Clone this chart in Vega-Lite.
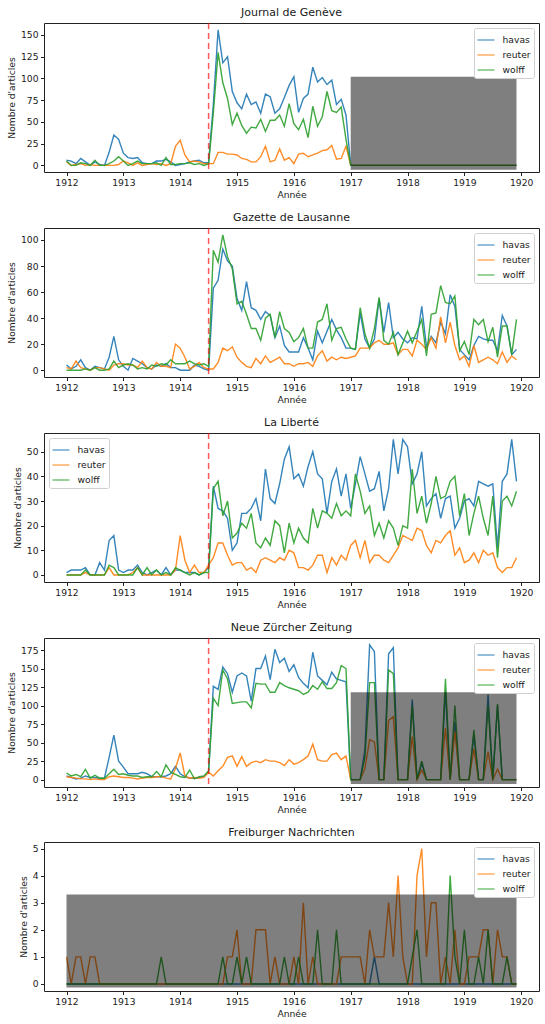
{
"$schema": "https://vega.github.io/schema/vega-lite/v6.json",
"padding": {"left": 6, "top": 6, "right": 5, "bottom": 3},
"config": {
  "font": "DejaVu Sans",
  "view": {"stroke": "#222", "strokeWidth": 1},
  "axis": {"grid": false, "domain": false, "tickColor": "#222", "tickSize": 3.5, "labelFontSize": 9.2, "labelColor": "#1a1a1a", "titleFontSize": 9.2, "titleFontWeight": "normal", "titleColor": "#1a1a1a", "labelPadding": 2.5, "labelFlush": false, "labelOverlap": false},
  "axisY": {"titlePadding": 4},
  "axisX": {"titlePadding": 3},
  "title": {"fontSize": 11, "fontWeight": "normal", "color": "#1a1a1a", "offset": 4},
  "legend": {"title": null, "orient": "top-right", "symbolType": "stroke", "symbolSize": 289, "symbolStrokeWidth": 1.6, "symbolOpacity": 0.6, "labelFontSize": 9.2, "labelColor": "#1a1a1a", "fillColor": "white", "strokeColor": "#d0d0d0", "cornerRadius": 2, "padding": 2.5, "offset": 5, "rowPadding": -3.3, "labelOffset": 7},
  "concat": {"spacing": 11}
},
"resolve": {"scale": {"color": "independent", "x": "independent", "y": "independent"}, "legend": {"color": "independent"}},
"datasets": {
"jdg": [
{"t":1912,"havas":6,"reuter":4,"wolff":5},{"t":1912.083,"havas":5,"reuter":0,"wolff":0},{"t":1912.167,"havas":2,"reuter":1,"wolff":0},{"t":1912.25,"havas":8,"reuter":2,"wolff":3},{"t":1912.333,"havas":4,"reuter":0,"wolff":2},{"t":1912.417,"havas":0,"reuter":1,"wolff":0},{"t":1912.5,"havas":4,"reuter":0,"wolff":6},{"t":1912.583,"havas":1,"reuter":0,"wolff":0},{"t":1912.667,"havas":0,"reuter":0,"wolff":0},{"t":1912.75,"havas":15,"reuter":0,"wolff":2},{"t":1912.833,"havas":35,"reuter":0,"wolff":5},{"t":1912.917,"havas":30,"reuter":1,"wolff":10},
{"t":1913,"havas":14,"reuter":5,"wolff":5},{"t":1913.083,"havas":9,"reuter":3,"wolff":0},{"t":1913.167,"havas":8,"reuter":0,"wolff":2},{"t":1913.25,"havas":9,"reuter":3,"wolff":5},{"t":1913.333,"havas":3,"reuter":0,"wolff":2},{"t":1913.417,"havas":2,"reuter":1,"wolff":2},{"t":1913.5,"havas":2,"reuter":2,"wolff":2},{"t":1913.583,"havas":5,"reuter":1,"wolff":3},{"t":1913.667,"havas":5,"reuter":2,"wolff":0},{"t":1913.75,"havas":7,"reuter":0,"wolff":9},{"t":1913.833,"havas":4,"reuter":2,"wolff":1},{"t":1913.917,"havas":0,"reuter":22,"wolff":1},
{"t":1914,"havas":1,"reuter":29,"wolff":2},{"t":1914.083,"havas":2,"reuter":12,"wolff":2},{"t":1914.167,"havas":4,"reuter":4,"wolff":3},{"t":1914.25,"havas":5,"reuter":5,"wolff":1},{"t":1914.333,"havas":6,"reuter":4,"wolff":2},{"t":1914.417,"havas":3,"reuter":2,"wolff":0},{"t":1914.5,"havas":3,"reuter":2,"wolff":2},{"t":1914.583,"havas":70,"reuter":2,"wolff":60},{"t":1914.667,"havas":156,"reuter":15,"wolff":130},{"t":1914.75,"havas":118,"reuter":15,"wolff":95},{"t":1914.833,"havas":125,"reuter":13,"wolff":77},{"t":1914.917,"havas":85,"reuter":13,"wolff":47},
{"t":1915,"havas":72,"reuter":12,"wolff":60},{"t":1915.083,"havas":65,"reuter":8,"wolff":46},{"t":1915.167,"havas":82,"reuter":7,"wolff":37},{"t":1915.25,"havas":70,"reuter":4,"wolff":44},{"t":1915.333,"havas":73,"reuter":4,"wolff":43},{"t":1915.417,"havas":60,"reuter":10,"wolff":53},{"t":1915.5,"havas":82,"reuter":22,"wolff":39},{"t":1915.583,"havas":79,"reuter":4,"wolff":52},{"t":1915.667,"havas":60,"reuter":6,"wolff":52},{"t":1915.75,"havas":65,"reuter":19,"wolff":58},{"t":1915.833,"havas":78,"reuter":6,"wolff":45},{"t":1915.917,"havas":92,"reuter":9,"wolff":71},
{"t":1916,"havas":102,"reuter":2,"wolff":48},{"t":1916.083,"havas":61,"reuter":13,"wolff":41},{"t":1916.167,"havas":77,"reuter":14,"wolff":53},{"t":1916.25,"havas":82,"reuter":10,"wolff":32},{"t":1916.333,"havas":113,"reuter":12,"wolff":68},{"t":1916.417,"havas":96,"reuter":14,"wolff":45},{"t":1916.5,"havas":101,"reuter":17,"wolff":56},{"t":1916.583,"havas":93,"reuter":18,"wolff":85},{"t":1916.667,"havas":98,"reuter":23,"wolff":63},{"t":1916.75,"havas":70,"reuter":7,"wolff":61},{"t":1916.833,"havas":76,"reuter":8,"wolff":67},{"t":1916.917,"havas":58,"reuter":22,"wolff":30},
{"t":1917,"havas":0,"reuter":0,"wolff":0},{"t":1917.083,"havas":0,"reuter":0,"wolff":0},{"t":1917.167,"havas":0,"reuter":0,"wolff":0},{"t":1917.25,"havas":0,"reuter":0,"wolff":0},{"t":1917.333,"havas":0,"reuter":0,"wolff":0},{"t":1917.417,"havas":0,"reuter":0,"wolff":0},{"t":1917.5,"havas":0,"reuter":0,"wolff":0},{"t":1917.583,"havas":0,"reuter":0,"wolff":0},{"t":1917.667,"havas":0,"reuter":0,"wolff":0},{"t":1917.75,"havas":0,"reuter":0,"wolff":0},{"t":1917.833,"havas":0,"reuter":0,"wolff":0},{"t":1917.917,"havas":0,"reuter":0,"wolff":0},
{"t":1918,"havas":0,"reuter":0,"wolff":0},{"t":1918.083,"havas":0,"reuter":0,"wolff":0},{"t":1918.167,"havas":0,"reuter":0,"wolff":0},{"t":1918.25,"havas":0,"reuter":0,"wolff":0},{"t":1918.333,"havas":0,"reuter":0,"wolff":0},{"t":1918.417,"havas":0,"reuter":0,"wolff":0},{"t":1918.5,"havas":0,"reuter":0,"wolff":0},{"t":1918.583,"havas":0,"reuter":0,"wolff":0},{"t":1918.667,"havas":0,"reuter":0,"wolff":0},{"t":1918.75,"havas":0,"reuter":0,"wolff":0},{"t":1918.833,"havas":0,"reuter":0,"wolff":0},{"t":1918.917,"havas":0,"reuter":0,"wolff":0},
{"t":1919,"havas":0,"reuter":0,"wolff":0},{"t":1919.083,"havas":0,"reuter":0,"wolff":0},{"t":1919.167,"havas":0,"reuter":0,"wolff":0},{"t":1919.25,"havas":0,"reuter":0,"wolff":0},{"t":1919.333,"havas":0,"reuter":0,"wolff":0},{"t":1919.417,"havas":0,"reuter":0,"wolff":0},{"t":1919.5,"havas":0,"reuter":0,"wolff":0},{"t":1919.583,"havas":0,"reuter":0,"wolff":0},{"t":1919.667,"havas":0,"reuter":0,"wolff":0},{"t":1919.75,"havas":0,"reuter":0,"wolff":0},{"t":1919.833,"havas":0,"reuter":0,"wolff":0},{"t":1919.917,"havas":0,"reuter":0,"wolff":0}
],
"gdl": [
{"t":1912,"havas":4,"reuter":2,"wolff":0},{"t":1912.083,"havas":1,"reuter":1,"wolff":0},{"t":1912.167,"havas":3,"reuter":7,"wolff":0},{"t":1912.25,"havas":8,"reuter":2,"wolff":0},{"t":1912.333,"havas":2,"reuter":1,"wolff":1},{"t":1912.417,"havas":0,"reuter":0,"wolff":0},{"t":1912.5,"havas":3,"reuter":2,"wolff":2},{"t":1912.583,"havas":2,"reuter":2,"wolff":0},{"t":1912.667,"havas":1,"reuter":1,"wolff":0},{"t":1912.75,"havas":10,"reuter":0,"wolff":1},{"t":1912.833,"havas":26,"reuter":4,"wolff":7},{"t":1912.917,"havas":8,"reuter":5,"wolff":2},
{"t":1913,"havas":3,"reuter":5,"wolff":4},{"t":1913.083,"havas":0,"reuter":4,"wolff":5},{"t":1913.167,"havas":9,"reuter":4,"wolff":4},{"t":1913.25,"havas":7,"reuter":2,"wolff":1},{"t":1913.333,"havas":5,"reuter":7,"wolff":2},{"t":1913.417,"havas":2,"reuter":2,"wolff":1},{"t":1913.5,"havas":1,"reuter":1,"wolff":4},{"t":1913.583,"havas":4,"reuter":6,"wolff":3},{"t":1913.667,"havas":3,"reuter":3,"wolff":5},{"t":1913.75,"havas":5,"reuter":3,"wolff":4},{"t":1913.833,"havas":2,"reuter":2,"wolff":8},{"t":1913.917,"havas":2,"reuter":20,"wolff":5},
{"t":1914,"havas":0,"reuter":17,"wolff":5},{"t":1914.083,"havas":0,"reuter":10,"wolff":5},{"t":1914.167,"havas":0,"reuter":1,"wolff":7},{"t":1914.25,"havas":4,"reuter":3,"wolff":5},{"t":1914.333,"havas":3,"reuter":6,"wolff":4},{"t":1914.417,"havas":1,"reuter":2,"wolff":5},{"t":1914.5,"havas":0,"reuter":1,"wolff":3},{"t":1914.583,"havas":63,"reuter":1,"wolff":92},{"t":1914.667,"havas":69,"reuter":6,"wolff":83},{"t":1914.75,"havas":93,"reuter":17,"wolff":104},{"t":1914.833,"havas":84,"reuter":15,"wolff":87},{"t":1914.917,"havas":80,"reuter":18,"wolff":78},
{"t":1915,"havas":55,"reuter":10,"wolff":51},{"t":1915.083,"havas":46,"reuter":6,"wolff":53},{"t":1915.167,"havas":68,"reuter":3,"wolff":43},{"t":1915.25,"havas":48,"reuter":2,"wolff":32},{"t":1915.333,"havas":46,"reuter":9,"wolff":32},{"t":1915.417,"havas":39,"reuter":5,"wolff":23},{"t":1915.5,"havas":45,"reuter":11,"wolff":40},{"t":1915.583,"havas":42,"reuter":6,"wolff":43},{"t":1915.667,"havas":25,"reuter":8,"wolff":25},{"t":1915.75,"havas":34,"reuter":10,"wolff":45},{"t":1915.833,"havas":19,"reuter":5,"wolff":32},{"t":1915.917,"havas":14,"reuter":5,"wolff":29},
{"t":1916,"havas":14,"reuter":3,"wolff":22},{"t":1916.083,"havas":14,"reuter":5,"wolff":25},{"t":1916.167,"havas":25,"reuter":5,"wolff":32},{"t":1916.25,"havas":17,"reuter":6,"wolff":17},{"t":1916.333,"havas":8,"reuter":3,"wolff":17},{"t":1916.417,"havas":30,"reuter":11,"wolff":37},{"t":1916.5,"havas":21,"reuter":15,"wolff":39},{"t":1916.583,"havas":30,"reuter":7,"wolff":51},{"t":1916.667,"havas":39,"reuter":10,"wolff":23},{"t":1916.75,"havas":31,"reuter":8,"wolff":32},{"t":1916.833,"havas":25,"reuter":10,"wolff":33},{"t":1916.917,"havas":17,"reuter":9,"wolff":24},
{"t":1917,"havas":17,"reuter":10,"wolff":17},{"t":1917.083,"havas":16,"reuter":11,"wolff":16},{"t":1917.167,"havas":44,"reuter":17,"wolff":48},{"t":1917.25,"havas":24,"reuter":17,"wolff":28},{"t":1917.333,"havas":17,"reuter":17,"wolff":17},{"t":1917.417,"havas":24,"reuter":21,"wolff":32},{"t":1917.5,"havas":55,"reuter":23,"wolff":56},{"t":1917.583,"havas":29,"reuter":20,"wolff":23},{"t":1917.667,"havas":52,"reuter":20,"wolff":20},{"t":1917.75,"havas":25,"reuter":21,"wolff":29},{"t":1917.833,"havas":29,"reuter":12,"wolff":12},{"t":1917.917,"havas":24,"reuter":16,"wolff":21},
{"t":1918,"havas":21,"reuter":16,"wolff":30},{"t":1918.083,"havas":25,"reuter":11,"wolff":21},{"t":1918.167,"havas":24,"reuter":23,"wolff":30},{"t":1918.25,"havas":49,"reuter":20,"wolff":39},{"t":1918.333,"havas":18,"reuter":16,"wolff":11},{"t":1918.417,"havas":26,"reuter":25,"wolff":43},{"t":1918.5,"havas":21,"reuter":17,"wolff":44},{"t":1918.583,"havas":37,"reuter":41,"wolff":65},{"t":1918.667,"havas":28,"reuter":21,"wolff":52},{"t":1918.75,"havas":58,"reuter":37,"wolff":51},{"t":1918.833,"havas":49,"reuter":19,"wolff":57},{"t":1918.917,"havas":16,"reuter":8,"wolff":15},
{"t":1919,"havas":12,"reuter":11,"wolff":22},{"t":1919.083,"havas":8,"reuter":3,"wolff":12},{"t":1919.167,"havas":19,"reuter":19,"wolff":39},{"t":1919.25,"havas":26,"reuter":6,"wolff":35},{"t":1919.333,"havas":24,"reuter":8,"wolff":39},{"t":1919.417,"havas":23,"reuter":10,"wolff":22},{"t":1919.5,"havas":23,"reuter":8,"wolff":33},{"t":1919.583,"havas":15,"reuter":5,"wolff":10},{"t":1919.667,"havas":42,"reuter":14,"wolff":34},{"t":1919.75,"havas":34,"reuter":6,"wolff":34},{"t":1919.833,"havas":12,"reuter":11,"wolff":12},{"t":1919.917,"havas":16,"reuter":8,"wolff":39}
],
"lib": [
{"t":1912,"havas":1,"reuter":0,"wolff":0},{"t":1912.083,"havas":2,"reuter":0,"wolff":0},{"t":1912.167,"havas":2,"reuter":0,"wolff":0},{"t":1912.25,"havas":2,"reuter":0,"wolff":0},{"t":1912.333,"havas":3,"reuter":1,"wolff":2},{"t":1912.417,"havas":0,"reuter":0,"wolff":0},{"t":1912.5,"havas":0,"reuter":0,"wolff":0},{"t":1912.583,"havas":5,"reuter":0,"wolff":0},{"t":1912.667,"havas":2,"reuter":0,"wolff":0},{"t":1912.75,"havas":14,"reuter":3,"wolff":4},{"t":1912.833,"havas":16,"reuter":0,"wolff":3},{"t":1912.917,"havas":2,"reuter":0,"wolff":0},
{"t":1913,"havas":1,"reuter":0,"wolff":0},{"t":1913.083,"havas":2,"reuter":0,"wolff":0},{"t":1913.167,"havas":2,"reuter":1,"wolff":0},{"t":1913.25,"havas":4,"reuter":3,"wolff":3},{"t":1913.333,"havas":1,"reuter":0,"wolff":0},{"t":1913.417,"havas":0,"reuter":0,"wolff":3},{"t":1913.5,"havas":1,"reuter":0,"wolff":0},{"t":1913.583,"havas":2,"reuter":0,"wolff":2},{"t":1913.667,"havas":0,"reuter":0,"wolff":0},{"t":1913.75,"havas":3,"reuter":0,"wolff":1},{"t":1913.833,"havas":0,"reuter":0,"wolff":0},{"t":1913.917,"havas":2,"reuter":2,"wolff":3},
{"t":1914,"havas":2,"reuter":16,"wolff":2},{"t":1914.083,"havas":1,"reuter":6,"wolff":1},{"t":1914.167,"havas":1,"reuter":1,"wolff":0},{"t":1914.25,"havas":1,"reuter":4,"wolff":1},{"t":1914.333,"havas":0,"reuter":1,"wolff":0},{"t":1914.417,"havas":1,"reuter":1,"wolff":1},{"t":1914.5,"havas":3,"reuter":4,"wolff":1},{"t":1914.583,"havas":36,"reuter":7,"wolff":35},{"t":1914.667,"havas":27,"reuter":13,"wolff":38},{"t":1914.75,"havas":26,"reuter":13,"wolff":24},{"t":1914.833,"havas":23,"reuter":8,"wolff":30},{"t":1914.917,"havas":10,"reuter":4,"wolff":15},
{"t":1915,"havas":13,"reuter":5,"wolff":17},{"t":1915.083,"havas":25,"reuter":5,"wolff":21},{"t":1915.167,"havas":25,"reuter":2,"wolff":19},{"t":1915.25,"havas":27,"reuter":3,"wolff":25},{"t":1915.333,"havas":31,"reuter":1,"wolff":13},{"t":1915.417,"havas":22,"reuter":6,"wolff":11},{"t":1915.5,"havas":43,"reuter":7,"wolff":15},{"t":1915.583,"havas":31,"reuter":6,"wolff":12},{"t":1915.667,"havas":29,"reuter":5,"wolff":22},{"t":1915.75,"havas":37,"reuter":7,"wolff":20},{"t":1915.833,"havas":47,"reuter":6,"wolff":9},{"t":1915.917,"havas":52,"reuter":10,"wolff":21},
{"t":1916,"havas":39,"reuter":9,"wolff":13},{"t":1916.083,"havas":41,"reuter":3,"wolff":19},{"t":1916.167,"havas":36,"reuter":3,"wolff":15},{"t":1916.25,"havas":44,"reuter":2,"wolff":13},{"t":1916.333,"havas":50,"reuter":4,"wolff":27},{"t":1916.417,"havas":41,"reuter":8,"wolff":19},{"t":1916.5,"havas":39,"reuter":8,"wolff":26},{"t":1916.583,"havas":25,"reuter":1,"wolff":25},{"t":1916.667,"havas":38,"reuter":7,"wolff":23},{"t":1916.75,"havas":43,"reuter":4,"wolff":29},{"t":1916.833,"havas":32,"reuter":8,"wolff":24},{"t":1916.917,"havas":41,"reuter":6,"wolff":26},
{"t":1917,"havas":27,"reuter":12,"wolff":24},{"t":1917.083,"havas":37,"reuter":14,"wolff":41},{"t":1917.167,"havas":48,"reuter":7,"wolff":34},{"t":1917.25,"havas":41,"reuter":14,"wolff":25},{"t":1917.333,"havas":34,"reuter":5,"wolff":28},{"t":1917.417,"havas":35,"reuter":8,"wolff":16},{"t":1917.5,"havas":42,"reuter":8,"wolff":21},{"t":1917.583,"havas":26,"reuter":6,"wolff":15},{"t":1917.667,"havas":35,"reuter":5,"wolff":22},{"t":1917.75,"havas":55,"reuter":8,"wolff":19},{"t":1917.833,"havas":41,"reuter":11,"wolff":12},{"t":1917.917,"havas":55,"reuter":16,"wolff":20},
{"t":1918,"havas":52,"reuter":15,"wolff":19},{"t":1918.083,"havas":37,"reuter":14,"wolff":43},{"t":1918.167,"havas":41,"reuter":19,"wolff":25},{"t":1918.25,"havas":50,"reuter":18,"wolff":32},{"t":1918.333,"havas":28,"reuter":12,"wolff":21},{"t":1918.417,"havas":31,"reuter":9,"wolff":29},{"t":1918.5,"havas":33,"reuter":14,"wolff":40},{"t":1918.583,"havas":23,"reuter":13,"wolff":31},{"t":1918.667,"havas":31,"reuter":16,"wolff":32},{"t":1918.75,"havas":32,"reuter":18,"wolff":38},{"t":1918.833,"havas":19,"reuter":8,"wolff":40},{"t":1918.917,"havas":23,"reuter":11,"wolff":24},
{"t":1919,"havas":30,"reuter":5,"wolff":33},{"t":1919.083,"havas":31,"reuter":6,"wolff":16},{"t":1919.167,"havas":28,"reuter":9,"wolff":25},{"t":1919.25,"havas":38,"reuter":5,"wolff":32},{"t":1919.333,"havas":37,"reuter":10,"wolff":23},{"t":1919.417,"havas":36,"reuter":8,"wolff":16},{"t":1919.5,"havas":37,"reuter":9,"wolff":32},{"t":1919.583,"havas":11,"reuter":3,"wolff":7},{"t":1919.667,"havas":38,"reuter":1,"wolff":30},{"t":1919.75,"havas":41,"reuter":3,"wolff":32},{"t":1919.833,"havas":55,"reuter":3,"wolff":28},{"t":1919.917,"havas":38,"reuter":7,"wolff":34}
],
"nzz": [
{"t":1912,"havas":5,"reuter":4,"wolff":9},{"t":1912.083,"havas":3,"reuter":3,"wolff":5},{"t":1912.167,"havas":1,"reuter":2,"wolff":7},{"t":1912.25,"havas":2,"reuter":1,"wolff":4},{"t":1912.333,"havas":5,"reuter":1,"wolff":14},{"t":1912.417,"havas":3,"reuter":0,"wolff":2},{"t":1912.5,"havas":3,"reuter":1,"wolff":6},{"t":1912.583,"havas":2,"reuter":0,"wolff":2},{"t":1912.667,"havas":2,"reuter":0,"wolff":2},{"t":1912.75,"havas":30,"reuter":4,"wolff":8},{"t":1912.833,"havas":60,"reuter":5,"wolff":14},{"t":1912.917,"havas":25,"reuter":4,"wolff":7},
{"t":1913,"havas":17,"reuter":3,"wolff":8},{"t":1913.083,"havas":8,"reuter":3,"wolff":6},{"t":1913.167,"havas":8,"reuter":2,"wolff":5},{"t":1913.25,"havas":8,"reuter":1,"wolff":5},{"t":1913.333,"havas":10,"reuter":2,"wolff":3},{"t":1913.417,"havas":8,"reuter":3,"wolff":4},{"t":1913.5,"havas":4,"reuter":3,"wolff":4},{"t":1913.583,"havas":4,"reuter":4,"wolff":11},{"t":1913.667,"havas":4,"reuter":4,"wolff":4},{"t":1913.75,"havas":5,"reuter":2,"wolff":20},{"t":1913.833,"havas":8,"reuter":1,"wolff":10},{"t":1913.917,"havas":18,"reuter":15,"wolff":7},
{"t":1914,"havas":8,"reuter":36,"wolff":4},{"t":1914.083,"havas":4,"reuter":5,"wolff":3},{"t":1914.167,"havas":2,"reuter":2,"wolff":13},{"t":1914.25,"havas":2,"reuter":3,"wolff":1},{"t":1914.333,"havas":3,"reuter":2,"wolff":4},{"t":1914.417,"havas":4,"reuter":3,"wolff":5},{"t":1914.5,"havas":10,"reuter":10,"wolff":12},{"t":1914.583,"havas":126,"reuter":5,"wolff":110},{"t":1914.667,"havas":122,"reuter":12,"wolff":100},{"t":1914.75,"havas":152,"reuter":18,"wolff":148},{"t":1914.833,"havas":143,"reuter":30,"wolff":136},{"t":1914.917,"havas":118,"reuter":32,"wolff":103},
{"t":1915,"havas":140,"reuter":18,"wolff":104},{"t":1915.083,"havas":144,"reuter":31,"wolff":105},{"t":1915.167,"havas":140,"reuter":18,"wolff":105},{"t":1915.25,"havas":106,"reuter":23,"wolff":97},{"t":1915.333,"havas":150,"reuter":25,"wolff":130},{"t":1915.417,"havas":150,"reuter":23,"wolff":129},{"t":1915.5,"havas":167,"reuter":27,"wolff":129},{"t":1915.583,"havas":135,"reuter":25,"wolff":118},{"t":1915.667,"havas":176,"reuter":25,"wolff":118},{"t":1915.75,"havas":158,"reuter":23,"wolff":131},{"t":1915.833,"havas":164,"reuter":19,"wolff":127},{"t":1915.917,"havas":146,"reuter":27,"wolff":124},
{"t":1916,"havas":155,"reuter":21,"wolff":122},{"t":1916.083,"havas":138,"reuter":23,"wolff":120},{"t":1916.167,"havas":130,"reuter":27,"wolff":115},{"t":1916.25,"havas":124,"reuter":32,"wolff":118},{"t":1916.333,"havas":172,"reuter":48,"wolff":127},{"t":1916.417,"havas":140,"reuter":27,"wolff":122},{"t":1916.5,"havas":134,"reuter":25,"wolff":132},{"t":1916.583,"havas":128,"reuter":25,"wolff":123},{"t":1916.667,"havas":145,"reuter":34,"wolff":123},{"t":1916.75,"havas":136,"reuter":36,"wolff":131},{"t":1916.833,"havas":134,"reuter":27,"wolff":154},{"t":1916.917,"havas":132,"reuter":32,"wolff":150},
{"t":1917,"havas":0,"reuter":0,"wolff":0},{"t":1917.083,"havas":0,"reuter":0,"wolff":0},{"t":1917.167,"havas":0,"reuter":0,"wolff":0},{"t":1917.25,"havas":40,"reuter":15,"wolff":30},{"t":1917.333,"havas":182,"reuter":54,"wolff":131},{"t":1917.417,"havas":173,"reuter":51,"wolff":131},{"t":1917.5,"havas":0,"reuter":0,"wolff":0},{"t":1917.583,"havas":0,"reuter":0,"wolff":0},{"t":1917.667,"havas":170,"reuter":80,"wolff":148},{"t":1917.75,"havas":178,"reuter":85,"wolff":143},{"t":1917.833,"havas":0,"reuter":0,"wolff":0},{"t":1917.917,"havas":0,"reuter":0,"wolff":0},
{"t":1918,"havas":0,"reuter":0,"wolff":0},{"t":1918.083,"havas":108,"reuter":58,"wolff":100},{"t":1918.167,"havas":0,"reuter":0,"wolff":0},{"t":1918.25,"havas":22,"reuter":13,"wolff":25},{"t":1918.333,"havas":0,"reuter":0,"wolff":0},{"t":1918.417,"havas":0,"reuter":0,"wolff":0},{"t":1918.5,"havas":0,"reuter":0,"wolff":0},{"t":1918.583,"havas":0,"reuter":0,"wolff":0},{"t":1918.667,"havas":120,"reuter":70,"wolff":136},{"t":1918.75,"havas":0,"reuter":0,"wolff":0},{"t":1918.833,"havas":78,"reuter":65,"wolff":100},{"t":1918.917,"havas":0,"reuter":0,"wolff":0},
{"t":1919,"havas":0,"reuter":0,"wolff":0},{"t":1919.083,"havas":0,"reuter":0,"wolff":0},{"t":1919.167,"havas":60,"reuter":42,"wolff":67},{"t":1919.25,"havas":0,"reuter":0,"wolff":0},{"t":1919.333,"havas":0,"reuter":0,"wolff":0},{"t":1919.417,"havas":115,"reuter":38,"wolff":100},{"t":1919.5,"havas":0,"reuter":0,"wolff":0},{"t":1919.583,"havas":100,"reuter":14,"wolff":102},{"t":1919.667,"havas":0,"reuter":0,"wolff":0},{"t":1919.75,"havas":0,"reuter":0,"wolff":0},{"t":1919.833,"havas":0,"reuter":0,"wolff":0},{"t":1919.917,"havas":0,"reuter":0,"wolff":0}
],
"fn": [
{"t":1912,"havas":0,"reuter":1,"wolff":0},{"t":1912.083,"havas":0,"reuter":0,"wolff":0},{"t":1912.167,"havas":0,"reuter":1,"wolff":0},{"t":1912.25,"havas":0,"reuter":1,"wolff":0},{"t":1912.333,"havas":0,"reuter":0,"wolff":0},{"t":1912.417,"havas":0,"reuter":1,"wolff":0},{"t":1912.5,"havas":0,"reuter":1,"wolff":0},{"t":1912.583,"havas":0,"reuter":0,"wolff":0},{"t":1912.667,"havas":0,"reuter":0,"wolff":0},{"t":1912.75,"havas":0,"reuter":0,"wolff":0},{"t":1912.833,"havas":0,"reuter":0,"wolff":0},{"t":1912.917,"havas":0,"reuter":0,"wolff":0},
{"t":1913,"havas":0,"reuter":0,"wolff":0},{"t":1913.083,"havas":0,"reuter":0,"wolff":0},{"t":1913.167,"havas":0,"reuter":0,"wolff":0},{"t":1913.25,"havas":0,"reuter":0,"wolff":0},{"t":1913.333,"havas":0,"reuter":0,"wolff":0},{"t":1913.417,"havas":0,"reuter":0,"wolff":0},{"t":1913.5,"havas":0,"reuter":0,"wolff":0},{"t":1913.583,"havas":0,"reuter":0,"wolff":0},{"t":1913.667,"havas":0,"reuter":0,"wolff":1},{"t":1913.75,"havas":0,"reuter":0,"wolff":0},{"t":1913.833,"havas":0,"reuter":0,"wolff":0},{"t":1913.917,"havas":0,"reuter":0,"wolff":0},
{"t":1914,"havas":0,"reuter":0,"wolff":0},{"t":1914.083,"havas":0,"reuter":0,"wolff":0},{"t":1914.167,"havas":0,"reuter":0,"wolff":0},{"t":1914.25,"havas":0,"reuter":0,"wolff":0},{"t":1914.333,"havas":0,"reuter":0,"wolff":0},{"t":1914.417,"havas":0,"reuter":0,"wolff":0},{"t":1914.5,"havas":0,"reuter":0,"wolff":0},{"t":1914.583,"havas":0,"reuter":0,"wolff":0},{"t":1914.667,"havas":0,"reuter":0,"wolff":0},{"t":1914.75,"havas":0,"reuter":0,"wolff":1},{"t":1914.833,"havas":0,"reuter":1,"wolff":0},{"t":1914.917,"havas":0,"reuter":1,"wolff":0},
{"t":1915,"havas":0,"reuter":2,"wolff":1},{"t":1915.083,"havas":0,"reuter":0,"wolff":0},{"t":1915.167,"havas":0,"reuter":0,"wolff":1},{"t":1915.25,"havas":0,"reuter":0,"wolff":0},{"t":1915.333,"havas":0,"reuter":2,"wolff":0},{"t":1915.417,"havas":0,"reuter":2,"wolff":0},{"t":1915.5,"havas":0,"reuter":2,"wolff":0},{"t":1915.583,"havas":0,"reuter":0,"wolff":0},{"t":1915.667,"havas":0,"reuter":1,"wolff":0},{"t":1915.75,"havas":0,"reuter":0,"wolff":0},{"t":1915.833,"havas":0,"reuter":0,"wolff":1},{"t":1915.917,"havas":0,"reuter":0,"wolff":0},
{"t":1916,"havas":0,"reuter":1,"wolff":0},{"t":1916.083,"havas":0,"reuter":0,"wolff":1},{"t":1916.167,"havas":0,"reuter":3,"wolff":0},{"t":1916.25,"havas":0,"reuter":0,"wolff":0},{"t":1916.333,"havas":0,"reuter":1,"wolff":0},{"t":1916.417,"havas":0,"reuter":0,"wolff":2},{"t":1916.5,"havas":0,"reuter":0,"wolff":0},{"t":1916.583,"havas":0,"reuter":0,"wolff":0},{"t":1916.667,"havas":0,"reuter":0,"wolff":0},{"t":1916.75,"havas":0,"reuter":0,"wolff":2},{"t":1916.833,"havas":0,"reuter":1,"wolff":0},{"t":1916.917,"havas":0,"reuter":1,"wolff":0},
{"t":1917,"havas":0,"reuter":1,"wolff":0},{"t":1917.083,"havas":0,"reuter":1,"wolff":0},{"t":1917.167,"havas":0,"reuter":1,"wolff":0},{"t":1917.25,"havas":0,"reuter":0,"wolff":0},{"t":1917.333,"havas":0,"reuter":2,"wolff":0},{"t":1917.417,"havas":1,"reuter":1,"wolff":0},{"t":1917.5,"havas":0,"reuter":1,"wolff":0},{"t":1917.583,"havas":0,"reuter":1,"wolff":0},{"t":1917.667,"havas":0,"reuter":3,"wolff":0},{"t":1917.75,"havas":0,"reuter":1,"wolff":0},{"t":1917.833,"havas":0,"reuter":4,"wolff":0},{"t":1917.917,"havas":0,"reuter":1,"wolff":0},
{"t":1918,"havas":0,"reuter":0,"wolff":0},{"t":1918.083,"havas":0,"reuter":0,"wolff":1},{"t":1918.167,"havas":0,"reuter":4,"wolff":2},{"t":1918.25,"havas":0,"reuter":5,"wolff":0},{"t":1918.333,"havas":0,"reuter":1,"wolff":0},{"t":1918.417,"havas":0,"reuter":3,"wolff":0},{"t":1918.5,"havas":0,"reuter":3,"wolff":0},{"t":1918.583,"havas":0,"reuter":0,"wolff":0},{"t":1918.667,"havas":0,"reuter":1,"wolff":0},{"t":1918.75,"havas":0,"reuter":0,"wolff":4},{"t":1918.833,"havas":0,"reuter":2,"wolff":1},{"t":1918.917,"havas":0,"reuter":0,"wolff":0},
{"t":1919,"havas":0,"reuter":0,"wolff":2},{"t":1919.083,"havas":0,"reuter":1,"wolff":0},{"t":1919.167,"havas":0,"reuter":1,"wolff":0},{"t":1919.25,"havas":0,"reuter":1,"wolff":1},{"t":1919.333,"havas":0,"reuter":2,"wolff":0},{"t":1919.417,"havas":0,"reuter":2,"wolff":2},{"t":1919.5,"havas":0,"reuter":0,"wolff":0},{"t":1919.583,"havas":0,"reuter":2,"wolff":0},{"t":1919.667,"havas":0,"reuter":1,"wolff":0},{"t":1919.75,"havas":0,"reuter":1,"wolff":1},{"t":1919.833,"havas":0,"reuter":0,"wolff":0},{"t":1919.917,"havas":0,"reuter":0,"wolff":0}
]
},
"vconcat": [
{"title": "Journal de Genève", "width": 495, "height": 149, "data": {"name": "jdg"},
 "layer": [
  {"transform": [{"fold": ["havas","reuter","wolff"], "as": ["agence","n"]}],
   "mark": {"type": "line", "strokeWidth": 1.4, "opacity": 0.9},
   "encoding": {
    "x": {"field": "t", "type": "quantitative", "scale": {"domain": [1911.604, 1920.313], "nice": false, "zero": false}, "axis": {"values": [1912,1913,1914,1915,1916,1917,1918,1919,1920], "format": "d", "title": "Année", "tickCount": 20}},
    "y": {"field": "n", "type": "quantitative", "scale": {"domain": [-7.6, 163.8], "nice": false, "zero": false}, "axis": {"values": [0,25,50,75,100,125,150], "title": "Nombre d'articles", "tickCount": 20, "labelOverlap": false}},
    "color": {"field": "agence", "type": "nominal", "scale": {"domain": ["havas","reuter","wolff"], "range": ["#1f77b4","#ff7f0e","#2ca02c"]}, "legend": {"orient": "top-right"}}}},
  {"data": {"values": [{}]}, "mark": {"type": "rule", "color": "red", "strokeDash": [6,4], "strokeWidth": 1.5, "opacity": 0.65}, "encoding": {"x": {"datum": 1914.5}}},
  {"data": {"values": [{}]}, "mark": {"type": "rect", "color": "black", "opacity": 0.5}, "encoding": {"x": {"datum": 1917}, "x2": {"datum": 1919.917}, "y": {"datum": -5}, "y2": {"datum": 102}}}
 ]},
{"title": "Gazette de Lausanne", "width": 495, "height": 149, "data": {"name": "gdl"},
 "layer": [
  {"transform": [{"fold": ["havas","reuter","wolff"], "as": ["agence","n"]}],
   "mark": {"type": "line", "strokeWidth": 1.4, "opacity": 0.9},
   "encoding": {
    "x": {"field": "t", "type": "quantitative", "scale": {"domain": [1911.604, 1920.313], "nice": false, "zero": false}, "axis": {"values": [1912,1913,1914,1915,1916,1917,1918,1919,1920], "format": "d", "title": "Année", "tickCount": 20}},
    "y": {"field": "n", "type": "quantitative", "scale": {"domain": [-5.2, 109.2], "nice": false, "zero": false}, "axis": {"values": [0,20,40,60,80,100], "title": "Nombre d'articles", "tickCount": 20, "labelOverlap": false}},
    "color": {"field": "agence", "type": "nominal", "scale": {"domain": ["havas","reuter","wolff"], "range": ["#1f77b4","#ff7f0e","#2ca02c"]}, "legend": {"orient": "top-right"}}}},
  {"data": {"values": [{}]}, "mark": {"type": "rule", "color": "red", "strokeDash": [6,4], "strokeWidth": 1.5, "opacity": 0.65}, "encoding": {"x": {"datum": 1914.5}}}
 ]},
{"title": "La Liberté", "width": 495, "height": 149, "data": {"name": "lib"},
 "layer": [
  {"transform": [{"fold": ["havas","reuter","wolff"], "as": ["agence","n"]}],
   "mark": {"type": "line", "strokeWidth": 1.4, "opacity": 0.9},
   "encoding": {
    "x": {"field": "t", "type": "quantitative", "scale": {"domain": [1911.604, 1920.313], "nice": false, "zero": false}, "axis": {"values": [1912,1913,1914,1915,1916,1917,1918,1919,1920], "format": "d", "title": "Année", "tickCount": 20}},
    "y": {"field": "n", "type": "quantitative", "scale": {"domain": [-2.85, 57.6], "nice": false, "zero": false}, "axis": {"values": [0,10,20,30,40,50], "title": "Nombre d'articles", "tickCount": 20, "labelOverlap": false}},
    "color": {"field": "agence", "type": "nominal", "scale": {"domain": ["havas","reuter","wolff"], "range": ["#1f77b4","#ff7f0e","#2ca02c"]}, "legend": {"orient": "top-left"}}}},
  {"data": {"values": [{}]}, "mark": {"type": "rule", "color": "red", "strokeDash": [6,4], "strokeWidth": 1.5, "opacity": 0.65}, "encoding": {"x": {"datum": 1914.5}}}
 ]},
{"title": "Neue Zürcher Zeitung", "width": 495, "height": 149, "data": {"name": "nzz"},
 "layer": [
  {"transform": [{"fold": ["havas","reuter","wolff"], "as": ["agence","n"]}],
   "mark": {"type": "line", "strokeWidth": 1.4, "opacity": 0.9},
   "encoding": {
    "x": {"field": "t", "type": "quantitative", "scale": {"domain": [1911.604, 1920.313], "nice": false, "zero": false}, "axis": {"values": [1912,1913,1914,1915,1916,1917,1918,1919,1920], "format": "d", "title": "Année", "tickCount": 20}},
    "y": {"field": "n", "type": "quantitative", "scale": {"domain": [-9.9, 191.2], "nice": false, "zero": false}, "axis": {"values": [0,25,50,75,100,125,150,175], "title": "Nombre d'articles", "tickCount": 20, "labelOverlap": false}},
    "color": {"field": "agence", "type": "nominal", "scale": {"domain": ["havas","reuter","wolff"], "range": ["#1f77b4","#ff7f0e","#2ca02c"]}, "legend": {"orient": "top-right"}}}},
  {"data": {"values": [{}]}, "mark": {"type": "rule", "color": "red", "strokeDash": [6,4], "strokeWidth": 1.5, "opacity": 0.65}, "encoding": {"x": {"datum": 1914.5}}},
  {"data": {"values": [{}]}, "mark": {"type": "rect", "color": "black", "opacity": 0.5}, "encoding": {"x": {"datum": 1917}, "x2": {"datum": 1919.917}, "y": {"datum": -6}, "y2": {"datum": 118}}}
 ]},
{"title": "Freiburger Nachrichten", "width": 495, "height": 149, "data": {"name": "fn"},
 "layer": [
  {"transform": [{"fold": ["havas","reuter","wolff"], "as": ["agence","n"]}],
   "mark": {"type": "line", "strokeWidth": 1.4, "opacity": 0.9},
   "encoding": {
    "x": {"field": "t", "type": "quantitative", "scale": {"domain": [1911.604, 1920.313], "nice": false, "zero": false}, "axis": {"values": [1912,1913,1914,1915,1916,1917,1918,1919,1920], "format": "d", "title": "Année", "tickCount": 20}},
    "y": {"field": "n", "type": "quantitative", "scale": {"domain": [-0.26, 5.24], "nice": false, "zero": false}, "axis": {"values": [0,1,2,3,4,5], "format": "d", "title": "Nombre d'articles", "tickCount": 20, "labelOverlap": false}},
    "color": {"field": "agence", "type": "nominal", "scale": {"domain": ["havas","reuter","wolff"], "range": ["#1f77b4","#ff7f0e","#2ca02c"]}, "legend": {"orient": "top-right"}}}},
  {"data": {"values": [{}]}, "mark": {"type": "rect", "color": "black", "opacity": 0.5}, "encoding": {"x": {"datum": 1912}, "x2": {"datum": 1919.917}, "y": {"datum": -0.13}, "y2": {"datum": 3.3}}}
 ]}
]
}
